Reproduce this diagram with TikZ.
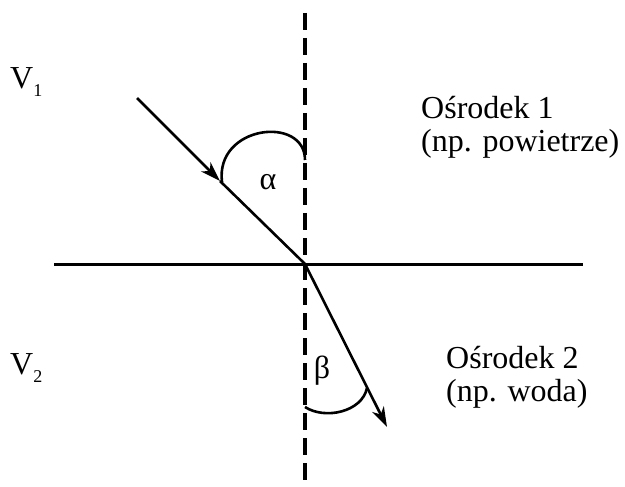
\documentclass[tikz,border=0pt]{standalone}
\usepackage{fontspec}
\setmainfont{Liberation Serif}
\usetikzlibrary{arrows.meta}
\tikzset{
  ray/.style={line width=2.6pt},
  axis/.style={line width=3pt},
  normal/.style={line width=3.2pt, dash pattern=on 17pt off 8pt},
  tip/.style={-{Stealth[length=20pt,width=13pt,inset=6pt]}},
  lbl/.style={font=\fontsize{32}{33}\selectfont, inner sep=0pt},
}
\newcommand{\subsc}[1]{\raisebox{-0.25em}{\fontsize{18}{18}\selectfont #1}}
\begin{document}
\begin{tikzpicture}[x=1pt,y=-1pt]
\useasboundingbox (0,0) rectangle (625,487);
% points
\coordinate (O) at (305,264);
\coordinate (Ntop) at (305,13);
\coordinate (Nbot) at (305,487);
\coordinate (Hl) at (54,264);
\coordinate (Hr) at (583,264);
\coordinate (A) at (137,98);
\coordinate (M) at (220,181);
\coordinate (B) at (387,427);
% lines
\draw[normal] (Ntop) -- (Nbot);
\draw[axis] (Hl) -- (Hr);
\draw[ray, tip] (A) -- (M);
\draw[ray] (M) -- (O);
\draw[ray, tip] (O) -- (B);
% angle arcs
\coordinate (a1) at (222,182);
\coordinate (a2) at (305,160);
\draw[ray] (a1) .. controls (215,125) and (305,115) .. (a2);
\coordinate (b1) at (305,407);
\coordinate (b2) at (367,388);
\draw[ray] (b1) .. controls (325,420) and (362,412) .. (b2);
% labels
\node[lbl] (alpha) at (268,182) {α};
\node[lbl] (beta) at (322,371) {β};
\node[lbl, anchor=base west] (v1) at (10,89) {V\subsc{1}};
\node[lbl, anchor=base west] (v2) at (10,374) {V\subsc{2}};
\node[lbl, anchor=base west, align=left] (m1) at (421,152) {Ośrodek 1\\(np. powietrze)};
\node[lbl, anchor=base west, align=left] (m2) at (446,401) {Ośrodek 2\\(np. woda)};
\end{tikzpicture}
\end{document}
